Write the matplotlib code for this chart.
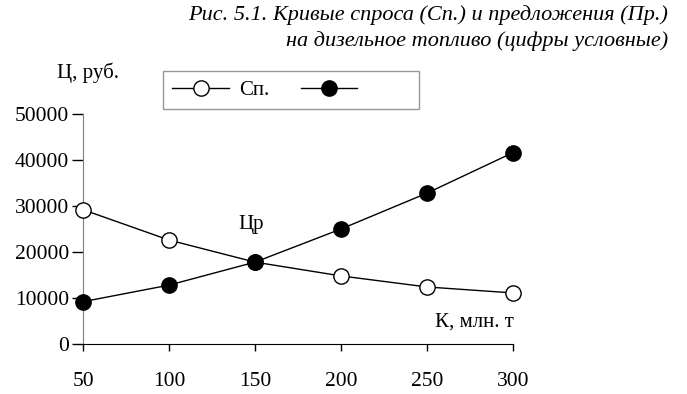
import matplotlib
matplotlib.use('Agg')
import matplotlib.pyplot as plt
from matplotlib.lines import Line2D

# data
quantity = [50, 100, 150, 200, 250, 300]
demand = [29200, 22600, 17800, 14800, 12400, 11100]
supply = [9200, 12800, 17800, 25000, 32800, 41600]
y_ticks = [0, 10000, 20000, 30000, 40000, 50000]

plt.rcParams['font.family'] = ['Liberation Serif', 'DejaVu Serif']
FS = 15.5

fig = plt.figure(figsize=(6.87, 3.94), dpi=100)
ax = fig.add_axes([83 / 687, 50 / 394, 430 / 687, 230 / 394])

mk = dict(marker='o', markersize=11, markeredgecolor='black',
          markeredgewidth=1.0, color='black', linewidth=1.0, clip_on=False)
ax.plot(quantity, demand, markerfacecolor='white', zorder=3, **mk)
ax.plot(quantity, supply, markerfacecolor='black', zorder=3, **mk)

ax.set_xlim(50, 300)
ax.set_ylim(0, 50000)
ax.set_xticks(quantity)
ax.set_yticks(y_ticks)
ax.tick_params(axis='x', direction='out', length=5, width=1, pad=15,
               labelsize=FS, color='black')
ax.tick_params(axis='y', direction='out', length=8, width=1, pad=2,
               labelsize=FS, color='black')

for s in ['top', 'right']:
    ax.spines[s].set_visible(False)
ax.spines['left'].set_color('#7f7f7f')
ax.spines['bottom'].set_color('black')

# axis captions
fig.text(88 / 687, 1 - 73 / 394, 'Ц, руб.', fontsize=15, ha='center', va='center')
fig.text(514 / 687, 1 - 322 / 394, 'К, млн. т', fontsize=15, ha='right', va='center')
ax.text(147.5, 26000, 'Цр', fontsize=15, ha='center', va='center')

# title
fig.text(668 / 687, 1 - 15 / 394, 'Рис. 5.1. Кривые спроса (Сп.) и предложения (Пр.)',
         fontsize=16, style='italic', ha='right', va='center')
fig.text(668 / 687, 1 - 41 / 394, 'на дизельное топливо (цифры условные)',
         fontsize=16, style='italic', ha='right', va='center')

# legend
handles = [
    Line2D([], [], color='black', lw=1, marker='o', markersize=11,
           markerfacecolor='white', markeredgecolor='black'),
    Line2D([], [], color='black', lw=1, marker='o', markersize=11,
           markerfacecolor='black', markeredgecolor='black'),
]
leg = fig.legend(handles, ['Сп.', ' ' * 8], loc='upper left',
                 bbox_to_anchor=(163 / 687, 1 - 71 / 394), borderaxespad=0,
                 ncol=2, fontsize=15, frameon=True, fancybox=False,
                 handlelength=2.7, columnspacing=1.5, borderpad=0.45,
                 handletextpad=0.5)
leg.get_frame().set_edgecolor('#7f7f7f')
leg.get_frame().set_linewidth(1.0)

fig.savefig('out.png', dpi=100)
